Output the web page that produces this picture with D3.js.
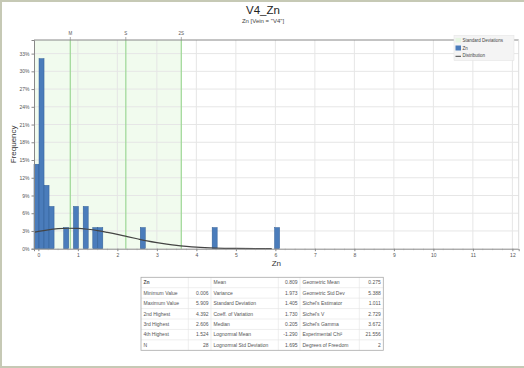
<!DOCTYPE html>
<html>
<head>
<meta charset="utf-8">
<script src="https://cdn.jsdelivr.net/npm/d3@7"></script>
<style>
    body { margin: 0; background: #fff; }
    svg { display: block; font-family: 'Liberation Sans', Arial, sans-serif; }
</style>
</head>
<body>
<svg id="chart" width="524" height="368"></svg>
<script>
// histogram bins (bin start in Zn, number of samples)
const binStarts = [-0.11, 0.017, 0.144, 0.271, 0.642, 0.888, 1.135, 1.378, 1.505, 2.58, 4.40, 5.98];
const binCounts = [4, 9, 3, 2, 1, 2, 2, 1, 1, 1, 1, 1];
const binWidth = 0.127;
const sampleCount = 28;

// fitted distribution curve (frequency %)
const curveX = [-0.11, 0, 0.25, 0.5, 0.75, 1.0, 1.25, 1.5, 1.75, 2.0, 2.25, 2.5, 2.75, 3.0, 3.25, 3.5, 3.75, 4.0, 4.5, 5.0, 5.5, 5.909];
const curveY = [2.79, 2.93, 3.20, 3.38, 3.46, 3.43, 3.29, 3.07, 2.76, 2.42, 2.04, 1.68, 1.33, 1.03, 0.77, 0.55, 0.39, 0.26, 0.11, 0.04, 0.01, 0.0];

// standard deviation markers
const stdLabels = ['M', 'S', '2S'];
const stdValues = [0.809, 2.214, 3.619];

const xTicks = [0, 1, 2, 3, 4, 5, 6, 7, 8, 9, 10, 11, 12];
const yTicks = [0, 3, 6, 9, 12, 15, 18, 21, 24, 27, 30, 33];

// statistics table
const statNames1 = ['Zn', 'Minimum Value', 'Maximum Value', '2nd Highest', '3rd Highest', '4th Highest', 'N'];
const statValues1 = ['', '0.006', '5.909', '4.392', '2.606', '1.524', '28'];
const statNames2 = ['Mean', 'Variance', 'Standard Deviation', 'Coeff. of Variation', 'Median', 'Lognormal Mean', 'Lognormal Std Deviation'];
const statValues2 = ['0.809', '1.973', '1.405', '1.730', '0.205', '-1.290', '1.695'];
const statNames3 = ['Geometric Mean', 'Geometric Std Dev', "Sichel's Estimator", "Sichel's V", "Sichel's Gamma", 'Experimental Chi²', 'Degrees of Freedom'];
const statValues3 = ['0.275', '5.388', '1.011', '2.729', '3.672', '21.556', '2'];


const svg = d3.select('#chart');
const plot = {left: 34, right: 518.7, top: 40, bottom: 248.7};

const x = d3.scaleLinear().domain([-0.11, 12.16]).range([plot.left, plot.right]);
const y = d3.scaleLinear().domain([0, 35.3]).range([plot.bottom, plot.top]);

// frame round the picture
svg.append('path')
    .attr('d', 'M524,1 H1 V367 H524')
    .style('fill', 'none')
    .style('stroke', '#c6c9b5')
    .style('stroke-width', 2);

// titles
svg.append('text')
    .text('V4_Zn')
    .attr('x', 263).attr('y', 14)
    .attr('text-anchor', 'middle')
    .style('font-size', '11.5px')
    .style('fill', '#222');
svg.append('text')
    .text('Zn [Vein = "V4"]')
    .attr('x', 263).attr('y', 22.5)
    .attr('text-anchor', 'middle')
    .style('font-size', '6px')
    .style('fill', '#444');

// shaded +/- 2 std dev band
svg.append('rect')
    .attr('x', x(Math.max(x.domain()[0], stdValues[0] - 2 * (stdValues[1] - stdValues[0]))))
    .attr('y', plot.top)
    .attr('width', x(stdValues[2]) - x(Math.max(x.domain()[0], stdValues[0] - 2 * (stdValues[1] - stdValues[0]))))
    .attr('height', plot.bottom - plot.top)
    .style('fill', '#f1fbee');

// grid
svg.append('g').selectAll('line')
    .data(yTicks.slice(1))
    .join('line')
    .attr('x1', plot.left).attr('x2', plot.right)
    .attr('y1', d => y(d)).attr('y2', d => y(d))
    .style('stroke', '#e6e6e6')
    .style('stroke-width', 1);
svg.append('g').selectAll('line')
    .data(xTicks.slice(1))
    .join('line')
    .attr('x1', d => x(d)).attr('x2', d => x(d))
    .attr('y1', plot.top).attr('y2', plot.bottom)
    .style('stroke', '#e6e6e6')
    .style('stroke-width', 1);

// std dev lines + labels on top
svg.append('g').selectAll('line')
    .data(stdValues)
    .join('line')
    .attr('x1', d => x(d)).attr('x2', d => x(d))
    .attr('y1', plot.top).attr('y2', plot.bottom)
    .style('stroke', '#a3da9c')
    .style('stroke-width', 1.3);
svg.append('g').selectAll('text')
    .data(stdValues)
    .join('text')
    .text((d, i) => stdLabels[i])
    .attr('x', d => x(d)).attr('y', 35)
    .attr('text-anchor', 'middle')
    .style('font-size', '4.5px')
    .style('fill', '#555');
svg.append('g').selectAll('line')
    .data(stdValues)
    .join('line')
    .attr('x1', d => x(d)).attr('x2', d => x(d))
    .attr('y1', 37).attr('y2', plot.top)
    .style('stroke', '#777')
    .style('stroke-width', 0.6);

// histogram bars
svg.append('g').selectAll('rect')
    .data(binStarts)
    .join('rect')
    .attr('x', d => x(d))
    .attr('width', d => x(d + binWidth) - x(d))
    .attr('y', (d, i) => y(binCounts[i] / sampleCount * 100))
    .attr('height', (d, i) => y(0) - y(binCounts[i] / sampleCount * 100))
    .style('fill', '#4a7cbb')
    .style('stroke', '#2f5c94')
    .style('stroke-width', 0.5);

// distribution curve
const line = d3.line()
    .x((d, i) => x(curveX[i]))
    .y(d => y(d))
    .curve(d3.curveMonotoneX);
svg.append('path')
    .datum(curveY)
    .attr('d', line)
    .style('fill', 'none')
    .style('stroke', '#444')
    .style('stroke-width', 1.2);

// axes
const xAxis = d3.axisBottom(x).tickValues(xTicks).tickSize(2.5).tickPadding(2).tickFormat(d3.format('d'));
const gx = svg.append('g').attr('transform', `translate(0,${plot.bottom})`).call(xAxis);
const yAxis = d3.axisLeft(y).tickValues(yTicks).tickSize(2.5).tickPadding(2).tickFormat(d => d + '%');
const gy = svg.append('g').attr('transform', `translate(${plot.left},0)`).call(yAxis);
[gx, gy].forEach(g => {
    g.select('.domain').style('stroke', '#888');
    g.selectAll('.tick line').style('stroke', '#888');
    g.selectAll('.tick text')
        .style('font-size', '5px')
        .style('font-family', "'Liberation Sans', Arial, sans-serif")
        .style('fill', '#555');
});

// minor ticks on the x axis
svg.append('g').selectAll('line')
    .data(d3.range(0, 12.01, 0.25).filter(d => d % 1 !== 0))
    .join('line')
    .attr('x1', d => x(d)).attr('x2', d => x(d))
    .attr('y1', plot.bottom).attr('y2', plot.bottom + 1.5)
    .style('stroke', '#999')
    .style('stroke-width', 0.5);

// top and right borders of plot
svg.append('line')
    .attr('x1', plot.left).attr('x2', plot.right)
    .attr('y1', plot.top).attr('y2', plot.top)
    .style('stroke', '#888');
svg.append('line')
    .attr('x1', plot.right).attr('x2', plot.right)
    .attr('y1', plot.top).attr('y2', plot.bottom)
    .style('stroke', '#ddd');

// axis titles
svg.append('text')
    .text('Zn')
    .attr('x', (plot.left + plot.right) / 2).attr('y', 266)
    .attr('text-anchor', 'middle')
    .style('font-size', '8px')
    .style('fill', '#333');
svg.append('text')
    .text('Frequency')
    .attr('transform', `translate(16,${(plot.top + plot.bottom) / 2}) rotate(-90)`)
    .attr('text-anchor', 'middle')
    .style('font-size', '8px')
    .style('fill', '#333');

// legend
const legend = svg.append('g').attr('transform', 'translate(454,35.5)');
legend.append('rect')
    .attr('width', 60).attr('height', 25)
    .style('fill', '#f4f4f4')
    .style('stroke', '#e2e2e2')
    .style('stroke-width', 0.5);
legend.append('rect').attr('x', 1.5).attr('y', 2.5).attr('width', 5.5).attr('height', 4.5).style('fill', '#e6f5e2');
legend.append('rect').attr('x', 1.5).attr('y', 10).attr('width', 5.5).attr('height', 5).style('fill', '#4a7cbb');
legend.append('line').attr('x1', 1.5).attr('x2', 7).attr('y1', 20.8).attr('y2', 20.8).style('stroke', '#444').style('stroke-width', 1);
legend.selectAll('text')
    .data(['Standard Deviations', 'Zn', 'Distribution'])
    .join('text')
    .text(d => d)
    .attr('x', 8.5)
    .attr('y', (d, i) => 6.5 + i * 7.7)
    .style('font-size', '4.5px')
    .style('fill', '#444');

// statistics table
const table = {left: 141, top: 277.3, rowH: 10.43};
const colEdges = [141, 188.3, 211, 278.3, 300, 359.3, 383.3];
const nameCols = [statNames1, statNames2, statNames3];
const valueCols = [statValues1, statValues2, statValues3];
const tableH = table.rowH * statNames1.length;

const tg = svg.append('g');
tg.append('rect')
    .attr('x', colEdges[0]).attr('y', table.top)
    .attr('width', colEdges[6] - colEdges[0]).attr('height', tableH)
    .style('fill', '#fff');
tg.selectAll('line.row')
    .data(d3.range(1, statNames1.length))
    .join('line')
    .attr('class', 'row')
    .attr('x1', colEdges[0]).attr('x2', colEdges[6])
    .attr('y1', d => table.top + d * table.rowH).attr('y2', d => table.top + d * table.rowH)
    .style('stroke', '#e3e3e3')
    .style('stroke-width', 0.6);
tg.selectAll('line.col')
    .data(colEdges.slice(1, 6))
    .join('line')
    .attr('class', 'col')
    .attr('x1', d => d).attr('x2', d => d)
    .attr('y1', table.top).attr('y2', table.top + tableH)
    .style('stroke', '#e3e3e3')
    .style('stroke-width', 0.6);
tg.append('rect')
    .attr('x', colEdges[0]).attr('y', table.top)
    .attr('width', colEdges[6] - colEdges[0]).attr('height', tableH)
    .style('fill', 'none')
    .style('stroke', '#aaa')
    .style('stroke-width', 0.8);

nameCols.forEach((names, c) => {
    tg.append('g').selectAll('text')
        .data(names)
        .join('text')
        .text(d => d)
        .attr('x', colEdges[c * 2] + 2.5)
        .attr('y', (d, i) => table.top + i * table.rowH + 7)
        .style('font-size', '5px')
        .style('font-weight', (d, i) => (c === 0 && i === 0) ? 'bold' : 'normal')
        .style('fill', '#555');
    tg.append('g').selectAll('text')
        .data(valueCols[c])
        .join('text')
        .text(d => d)
        .attr('x', colEdges[c * 2 + 2] - 2.5)
        .attr('y', (d, i) => table.top + i * table.rowH + 7)
        .attr('text-anchor', 'end')
        .style('font-size', '5px')
        .style('fill', '#555');
});
</script>
</body>
</html>
